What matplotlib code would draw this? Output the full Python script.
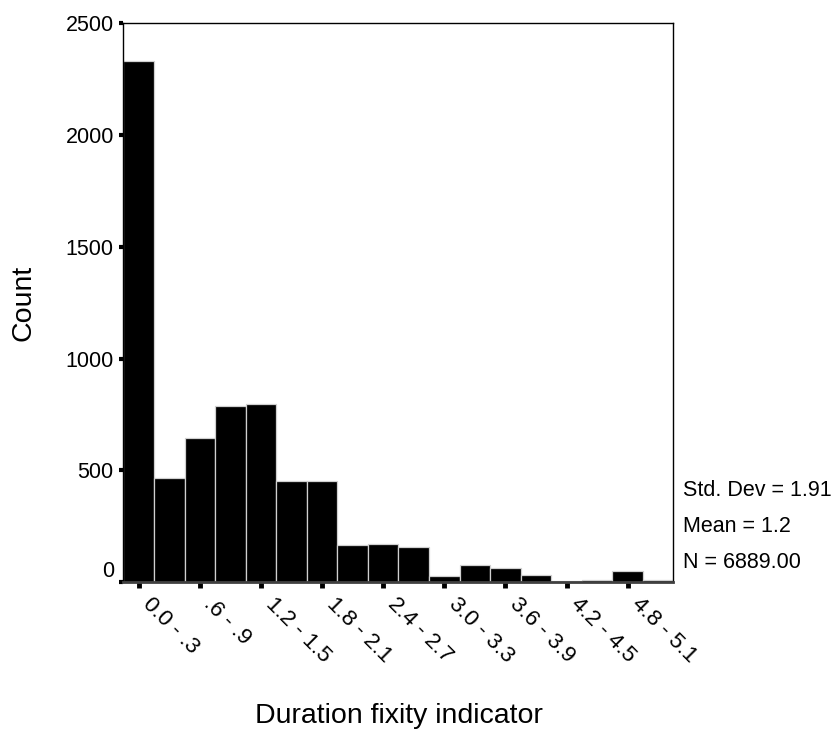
import matplotlib
matplotlib.use("Agg")
import matplotlib.pyplot as plt
import numpy as np

plt.rcParams['font.family'] = ['Liberation Sans', 'DejaVu Sans']

bin_width = 0.3
bin_starts = [0.0, 0.3, 0.6, 0.9, 1.2, 1.5, 1.8, 2.1, 2.4, 2.7,
              3.0, 3.3, 3.6, 3.9, 4.2, 4.5, 4.8, 5.1]
counts = [2332, 464, 643, 786, 795, 452, 452, 164, 170, 157,
          25, 77, 63, 33, 5, 10, 48, 9]
tick_labels = ["0.0 - .3", ".6 - .9", "1.2 - 1.5", "1.8 - 2.1", "2.4 - 2.7",
               "3.0 - 3.3", "3.6 - 3.9", "4.2 - 4.5", "4.8 - 5.1"]
y_ticks = [0, 500, 1000, 1500, 2000, 2500]
stats_lines = ["Std. Dev = 1.91", "Mean = 1.2", "N = 6889.00"]

fig = plt.figure(figsize=(8.37, 7.35), dpi=100)
W, H = 837, 735
left, right, top, bottom = 123.5, 673.5, 23.5, 582
ax = fig.add_axes([left / W, 1 - bottom / H, (right - left) / W, (bottom - top) / H])

centers = [s + bin_width / 2 for s in bin_starts]
ax.bar(centers, counts, width=bin_width, color='black', edgecolor='#d0d0d0',
       linewidth=0.9, align='center', zorder=2)

ax.set_xlim(bin_starts[0], bin_starts[-1] + bin_width)
ax.set_ylim(0, 2500)

ax.set_yticks(y_ticks)
ax.set_yticklabels([str(v) for v in y_ticks], fontsize=15.5)
ax.set_xticks(centers[::2])
ax.set_xticklabels(tick_labels, fontsize=16.2, rotation=-45, ha='left',
                   va='bottom', rotation_mode='anchor')

ax.tick_params(axis='y', direction='out', length=3, width=3, pad=4, color='black')
ax.tick_params(axis='x', direction='out', length=4, width=3.5, pad=15, color='black')

# SPSS lifts the "0" label slightly above its tick
ax.get_yticklabels()[0].set_verticalalignment('bottom')

for s in ['left', 'top', 'right']:
    ax.spines[s].set_linewidth(1.0)
    ax.spines[s].set_color('black')
ax.spines['bottom'].set_linewidth(2.0)
ax.spines['bottom'].set_color('#404040')

ax.set_ylabel("Count", fontsize=20.5, labelpad=21)
ax.set_xlabel("Duration fixity indicator", fontsize=20.5, labelpad=26)

# stats text to the right of the plot
ys = [490, 527, 563]
for txt, yy in zip(stats_lines, ys):
    fig.text(683 / W, 1 - yy / H, txt, fontsize=15.5, ha='left', va='center')

fig.savefig("out.png", dpi=100, facecolor='white')
